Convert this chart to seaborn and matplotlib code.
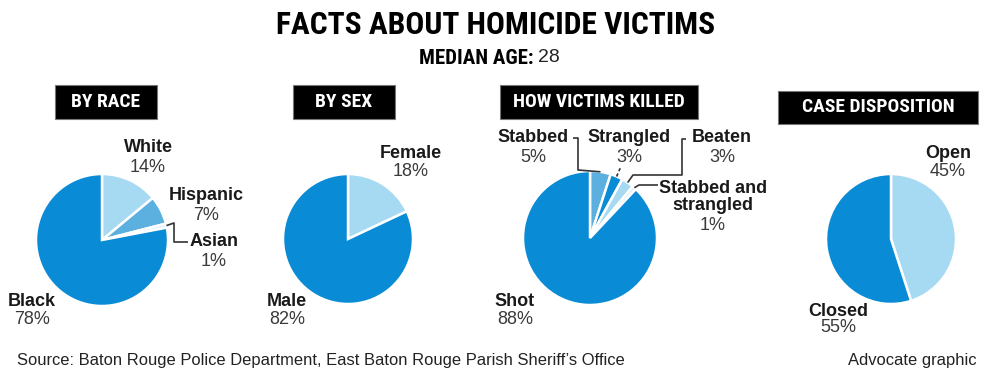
import matplotlib
matplotlib.use("Agg")
import numpy as np
import matplotlib.pyplot as plt
from matplotlib.patches import Rectangle
from matplotlib import font_manager as fm
import seaborn as sns

# ---------------- data ----------------
title = "FACTS ABOUT HOMICIDE VICTIMS"
median_label = "MEDIAN AGE:"
median_age = 28

race_labels = ["White", "Hispanic", "Asian", "Black"]
race_values = [14, 7, 1, 78]
sex_labels = ["Female", "Male"]
sex_values = [18, 82]
killed_labels = ["Stabbed", "Strangled", "Beaten", "Stabbed and\nstrangled", "Shot"]
killed_values = [5, 3, 3, 1, 88]
case_labels = ["Open", "Closed"]
case_values = [45, 55]

panel_titles = ["BY RACE", "BY SEX", "HOW VICTIMS KILLED", "CASE DISPOSITION"]
source_text = "Source: Baton Rouge Police Department, East Baton Rouge Parish Sheriff\u2019s Office"
credit_text = "Advocate graphic"

# ---------------- style ----------------
sns.set_theme(style="white")
plt.rcParams['font.family'] = ['Liberation Sans', 'DejaVu Sans']
REG = ['Liberation Sans', 'DejaVu Sans']


def _weight(f):
    w = f.weight
    if isinstance(w, str):
        w = {"bold": 700, "normal": 400, "regular": 400, "medium": 500,
             "semibold": 600, "black": 900, "heavy": 900, "light": 300}.get(w.lower(), 400)
    return w


def find_condensed(bold):
    prefs = ["liberation sans narrow", "roboto condensed", "open sans condensed",
             "noto sans", "dejavu sans", "lato", "inter", "open sans"]
    best, best_score = None, None
    for f in fm.fontManager.ttflist:
        n, fn, st = f.name.lower(), f.fname.lower(), str(f.stretch).lower()
        cond = ("narrow" in n or "condensed" in n or "condensed" in st or "narrow" in fn
                or "condensed" in fn)
        if not cond or "semi" in st or "semi" in fn or "extra" in fn or "ultra" in fn:
            continue
        if f.style != "normal" or "italic" in fn or "oblique" in fn:
            continue
        w = _weight(f)
        if bold and not (650 <= w <= 750):
            continue
        if not bold and not (380 <= w <= 420):
            continue
        rank = next((i for i, p in enumerate(prefs) if n.startswith(p)), len(prefs))
        if best_score is None or rank < best_score:
            best, best_score = f.fname, rank
    return best


_cb = find_condensed(True)
if _cb:
    COND_BOLD = dict(fontproperties=fm.FontProperties(fname=_cb))
else:
    COND_BOLD = dict(family=REG, fontweight="bold")
PLAIN = dict(family=REG)

DARK, MID, LIGHT, PALE = sns.color_palette(["#0a8bd5", "#5cb0e0", "#a6daf3", "#d9effa"])
race_colors = [LIGHT, MID, PALE, DARK]
sex_colors = [LIGHT, DARK]
killed_colors = [MID, DARK, LIGHT, PALE, DARK]
case_colors = [LIGHT, DARK]

W, H = 990, 373
fig = plt.figure(figsize=(W / 100, H / 100), dpi=100)
ax = fig.add_axes([0, 0, 1, 1])
renderer = fig.canvas.get_renderer()


def Y(y):
    return H - y


def fit_text(x, y, s, target_w, max_size, fontkw, **kw):
    t = ax.text(x, Y(y), s, **fontkw, **kw)
    t.set_fontsize(max_size)
    w = t.get_window_extent(renderer=renderer).width
    if w > target_w:
        t.set_fontsize(max_size * target_w / w)
    return t


def pie(values, colors, cx, cy, r):
    wedges, _ = ax.pie(values, colors=colors, startangle=90, counterclock=False,
                       center=(cx, Y(cy)), radius=r,
                       wedgeprops=dict(edgecolor="white", linewidth=1.8))
    return wedges


def edge(w, extra=0.0):
    t = np.deg2rad((w.theta1 + w.theta2) / 2)
    return (w.center[0] + (w.r + extra) * np.cos(t),
            w.center[1] + (w.r + extra) * np.sin(t))


def label(x, y, name, value, gap=19, lines=1):
    ax.text(x, Y(y), name, ha="center", va="center", fontsize=13,
            fontweight="bold", family=REG, color="#1a1a1a", linespacing=1.05)
    ax.text(x, Y(y + gap * (lines - 1) / 2 + gap), f"{value}%", ha="center", va="center",
            fontsize=13, family=REG, color="#3a3a3a")


def leader(points, start=None):
    xs = [p[0] for p in points]
    ys = [Y(p[1]) for p in points]
    if start is not None:
        xs = [start[0]] + xs
        ys = [start[1]] + ys
    ax.plot(xs, ys, color="#333333", lw=1.2, solid_capstyle="butt")


def header(x0, x1, y0, y1, text, tw):
    ax.add_patch(Rectangle((x0, Y(y1)), x1 - x0, y1 - y0, facecolor="black",
                           edgecolor="#777777", lw=0.8))
    fit_text((x0 + x1) / 2, (y0 + y1) / 2, text, tw, 14, COND_BOLD,
             ha="center", va="center", color="white")


# ---------------- pies ----------------
rw = pie(race_values, race_colors, 102, 240, 66)
sw = pie(sex_values, sex_colors, 348, 239, 65)
kw = pie(killed_values, killed_colors, 590, 238, 67)
cw = pie(case_values, case_colors, 891, 239, 65)

# ---------------- headers ----------------
header(55, 157, 85, 119, panel_titles[0], 76)
header(293, 395, 85, 119, panel_titles[1], 64)
header(500, 698, 85, 119, panel_titles[2], 184)
header(778, 978, 91, 124, panel_titles[3], 164)

# ---------------- labels: race ----------------
label(148, 148, race_labels[0], race_values[0])
label(206, 196, race_labels[1], race_values[1])
label(214, 241, race_labels[2], race_values[2], gap=21)
label(32, 301, race_labels[3], race_values[3], gap=18)
leader([(174, 223), (174, 242), (188, 242)], start=edge(rw[2]))

# ---------------- labels: sex ----------------
label(411, 153, sex_labels[0], sex_values[0], gap=18)
label(287, 302, sex_labels[1], sex_values[1], gap=18)

# ---------------- labels: killed ----------------
label(533, 138, killed_labels[0], killed_values[0])
label(629, 138, killed_labels[1], killed_values[1])
label(722, 138, killed_labels[2], killed_values[2])
label(713, 197, killed_labels[3], killed_values[3], gap=19, lines=2)
label(515, 302, killed_labels[4], killed_values[4], gap=18)
leader([(578, 170), (578, 138), (573, 138)], start=edge(kw[0]))
ax.plot([edge(kw[1])[0], edge(kw[1], 9)[0]], [edge(kw[1])[1], edge(kw[1], 9)[1]],
        color="#333333", lw=1.2, ls=(0, (2, 1.5)))
leader([(633, 175), (682, 175), (682, 139), (686, 139)], start=edge(kw[2]))
leader([(639, 185), (658, 185)], start=edge(kw[3]))

# ---------------- labels: case ----------------
label(948, 153, case_labels[0], case_values[0], gap=19)
label(838, 311, case_labels[1], case_values[1], gap=17)

# ---------------- titles ----------------
fit_text(W / 2 + 1, 25, title, 440, 27, COND_BOLD, ha="center", va="center", color="black")
fit_text(534, 58, median_label, 117, 15, COND_BOLD, ha="right", va="center", color="black")
ax.text(538, Y(58), str(median_age), ha="left", va="center", fontsize=14,
        family=REG, color="#222222")

# ---------------- footer ----------------
fit_text(17, 361, source_text, 603, 13, PLAIN, ha="left", va="center", color="#222222")
fit_text(976, 361, credit_text, 127, 13, PLAIN, ha="right", va="center", color="#222222")

ax.set_xlim(0, W)
ax.set_ylim(0, H)
ax.set_aspect("auto")
ax.axis("off")
fig.savefig("out.png", dpi=100, facecolor="white")
